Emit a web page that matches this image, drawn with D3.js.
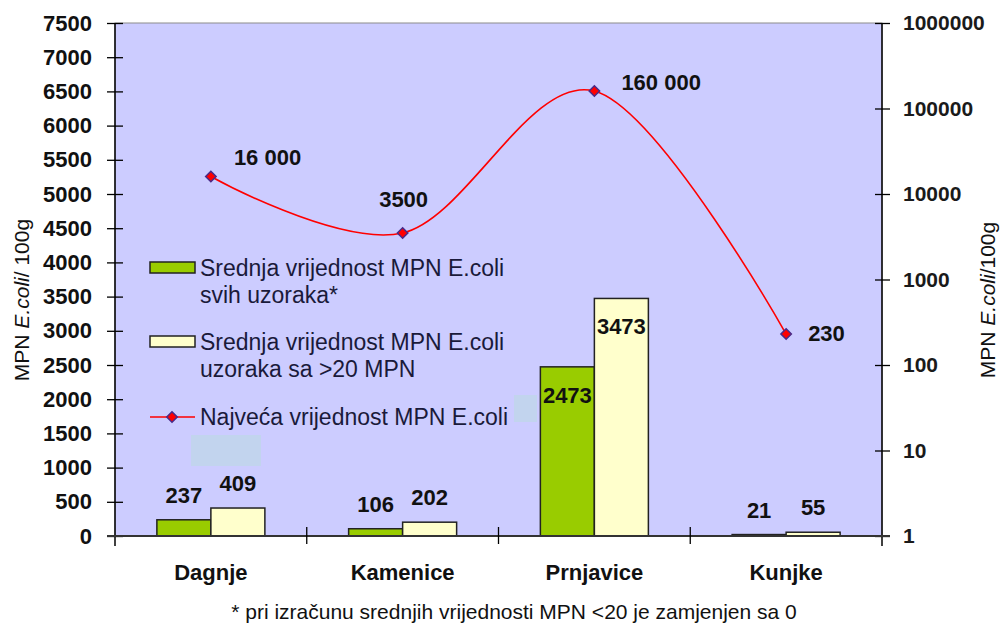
<!DOCTYPE html>
<html>
<head>
<meta charset="utf-8">
<script src="https://cdn.jsdelivr.net/npm/d3@7"></script>
<style>
  html, body { margin: 0; padding: 0; background: #ffffff; }
  svg { display: block; font-family: "Liberation Sans", Arial, sans-serif; }
</style>
</head>
<body>
<svg id="chart" width="1000" height="628"></svg>
<script>
// Sampling sites
const categories = ["Dagnje", "Kamenice", "Prnjavice", "Kunjke"];
// Mean MPN E.coli of all samples (MPN < 20 counted as 0)
const meanAll = [237, 106, 2473, 21];
// Mean MPN E.coli of samples with > 20 MPN
const meanAbove20 = [409, 202, 3473, 55];
// Highest MPN E.coli value (right, logarithmic axis)
const maxValue = [16000, 3500, 160000, 230];

const leftTicks = [0, 500, 1000, 1500, 2000, 2500, 3000, 3500, 4000, 4500, 5000, 5500, 6000, 6500, 7000, 7500];
const rightTicks = [1, 10, 100, 1000, 10000, 100000, 1000000];

const legendLabels = [
  ["Srednja vrijednost MPN E.coli", "svih uzoraka*"],
  ["Srednja vrijednost MPN E.coli", "uzoraka sa >20 MPN"],
  ["Najveća vrijednost MPN E.coli"]
];
const footnote = "* pri izračunu srednjih vrijednosti MPN <20 je zamjenjen sa 0";

// Layout
const plot = { left: 115, right: 882, top: 23, bottom: 536 };
const barW = 54;
const GREEN = "#99cc00", CREAM = "#ffffcc", PLOT_BG = "#ccccff", RED = "#ff0000";
const TEXT = "#111111";

const svg = d3.select("#chart");

const x = d3.scaleBand().domain(categories).range([plot.left, plot.right]).padding(0);
const yL = d3.scaleLinear().domain([0, 7500]).range([plot.bottom, plot.top]);
const yR = d3.scaleLog().domain([1, 1000000]).range([plot.bottom, plot.top]);
const cx = c => x(c) + x.bandwidth() / 2;

// Plot area
svg.append("rect")
  .attr("x", plot.left).attr("y", plot.top)
  .attr("width", plot.right - plot.left).attr("height", plot.bottom - plot.top)
  .attr("fill", PLOT_BG).attr("stroke", "#8c8c8c").attr("stroke-width", 1);

// Faint pale-blue patches inside the plot
[[191, 435, 70, 31], [514, 395, 23, 27]].forEach(([px, py, pw, ph]) => {
  svg.append("rect").attr("x", px).attr("y", py).attr("width", pw).attr("height", ph)
    .attr("fill", "#c2d4ee");
});

// Bars
const bars = svg.append("g");
categories.forEach((c, i) => {
  bars.append("rect")
    .attr("x", cx(c) - barW).attr("y", yL(meanAll[i]))
    .attr("width", barW).attr("height", yL(0) - yL(meanAll[i]))
    .attr("fill", GREEN).attr("stroke", "#222").attr("stroke-width", 1.5);
  bars.append("rect")
    .attr("x", cx(c)).attr("y", yL(meanAbove20[i]))
    .attr("width", barW).attr("height", yL(0) - yL(meanAbove20[i]))
    .attr("fill", CREAM).attr("stroke", "#222").attr("stroke-width", 1.5);
});

// Bar value labels
function barLabel(v, xc, inside) {
  const top = yL(v);
  const baseline = inside ? top + 36 : Math.min(top - 17, 518);
  svg.append("text")
    .attr("x", xc).attr("y", baseline)
    .attr("text-anchor", "middle")
    .attr("font-size", 22).attr("font-weight", "bold")
    .attr("fill", TEXT).text(v);
}
categories.forEach((c, i) => {
  const inside = meanAll[i] > 1000;
  barLabel(meanAll[i], cx(c) - barW / 2, inside);
  barLabel(meanAbove20[i], cx(c) + barW / 2, inside);
});

// Smoothed line of maximum values on log axis
const linePts = categories.map((c, i) => [cx(c), yR(maxValue[i])]);
svg.append("path")
  .attr("d", d3.line().curve(d3.curveCatmullRom.alpha(0))(linePts))
  .attr("fill", "none").attr("stroke", RED).attr("stroke-width", 1.6);

const diamond = d3.symbol().type(d3.symbolDiamond2).size(70);
svg.append("g").selectAll("path").data(linePts).join("path")
  .attr("transform", d => `translate(${d[0]},${d[1]})`)
  .attr("d", diamond)
  .attr("fill", RED).attr("stroke", "#4a2a88").attr("stroke-width", 1.5);

// Line value labels
const fmtSpace = d3.formatLocale({ decimal: ",", thousands: " ", grouping: [3], currency: ["", ""] }).format(",d");
const fmtMax = v => v >= 10000 ? fmtSpace(v) : String(v);
const lineLabelOffsets = [[23, -12, "start"], [1, -26, "middle"], [27, -1, "start"], [22, 7, "start"]];
linePts.forEach((p, i) => {
  const [dx, dy, anchor] = lineLabelOffsets[i];
  svg.append("text")
    .attr("x", p[0] + dx).attr("y", p[1] + dy)
    .attr("text-anchor", anchor)
    .attr("font-size", 22).attr("font-weight", "bold")
    .attr("fill", TEXT).text(fmtMax(maxValue[i]));
});

// Left axis
const gL = svg.append("g").attr("transform", `translate(${plot.left},0)`)
  .call(d3.axisLeft(yL).tickValues(leftTicks).tickSize(8).tickPadding(15).tickFormat(d3.format("d")));
gL.select(".domain").attr("stroke", "#000").attr("stroke-width", 1.5).attr("d", `M0,${plot.top}V${plot.bottom + 10}`);
gL.selectAll(".tick line").attr("x1", 8).attr("stroke", "#000").attr("stroke-width", 1.3);
gL.selectAll(".tick text")
  .attr("font-family", "Liberation Sans, Arial, sans-serif")
  .attr("font-size", 22).attr("font-weight", "bold").attr("fill", TEXT);

// Right axis (logarithmic)
const gR = svg.append("g").attr("transform", `translate(${plot.right},0)`)
  .call(d3.axisRight(yR).tickValues(rightTicks).tickSize(8).tickPadding(13).tickFormat(d3.format("d")));
gR.select(".domain").attr("stroke", "#000").attr("stroke-width", 1.5).attr("d", `M0,${plot.top}V${plot.bottom + 10}`);
gR.selectAll(".tick line").attr("x1", -7).attr("stroke", "#000").attr("stroke-width", 1.3);
gR.selectAll(".tick text")
  .attr("font-family", "Liberation Sans, Arial, sans-serif")
  .attr("font-size", 21).attr("font-weight", "bold").attr("fill", "#1a1a1a");

// Category axis
svg.append("line")
  .attr("x1", plot.left - 8).attr("x2", plot.right + 8)
  .attr("y1", plot.bottom).attr("y2", plot.bottom)
  .attr("stroke", "#333").attr("stroke-width", 1.8);
categories.slice(1).forEach(c => {
  svg.append("line")
    .attr("x1", x(c)).attr("x2", x(c))
    .attr("y1", plot.bottom - 9).attr("y2", plot.bottom + 8)
    .attr("stroke", "#000").attr("stroke-width", 1.3);
});
const gB = svg.append("g").attr("transform", `translate(0,${plot.bottom})`)
  .call(d3.axisBottom(x).tickSize(0).tickPadding(28));
gB.select(".domain").remove();
gB.selectAll(".tick text")
  .attr("font-family", "Liberation Sans, Arial, sans-serif")
  .attr("font-size", 22).attr("font-weight", "bold").attr("fill", TEXT);

// Axis titles
function axisTitle(xPos, yPos, parts) {
  const t = svg.append("text")
    .attr("transform", `translate(${xPos},${yPos}) rotate(-90)`)
    .attr("text-anchor", "middle").attr("font-size", 21).attr("fill", TEXT);
  parts.forEach(([s, italic]) => t.append("tspan").attr("font-style", italic ? "italic" : "normal").text(s));
}
axisTitle(29, 300, [["MPN ", false], ["E.coli", true], ["/ 100g", false]]);
axisTitle(995, 300, [["MPN ", false], ["E.coli", true], ["/100g", false]]);

// Legend
const legend = svg.append("g");
const legendText = "#1a1a3a";
const legendRows = [
  { y: 262, kind: "bar", fill: GREEN, lines: legendLabels[0], base: 276 },
  { y: 336, kind: "bar", fill: CREAM, lines: legendLabels[1], base: 350 },
  { y: 417, kind: "line", lines: legendLabels[2], base: 425 }
];
legendRows.forEach(r => {
  if (r.kind === "bar") {
    legend.append("rect").attr("x", 150).attr("y", r.y).attr("width", 45).attr("height", 11)
      .attr("fill", r.fill).attr("stroke", "#222").attr("stroke-width", 1.5);
  } else {
    legend.append("line").attr("x1", 150).attr("x2", 195).attr("y1", r.y).attr("y2", r.y)
      .attr("stroke", RED).attr("stroke-width", 1.6);
    legend.append("path").attr("transform", `translate(172,${r.y})`).attr("d", diamond)
      .attr("fill", RED).attr("stroke", "#4a2a88").attr("stroke-width", 1.5);
  }
  r.lines.forEach((s, k) => {
    legend.append("text").attr("x", 200).attr("y", r.base + k * 27)
      .attr("font-size", 23).attr("fill", legendText).text(s);
  });
});

// Footnote
svg.append("text")
  .attr("x", 514).attr("y", 619)
  .attr("text-anchor", "middle").attr("font-size", 21).attr("fill", TEXT)
  .text(footnote);
</script>
</body>
</html>
